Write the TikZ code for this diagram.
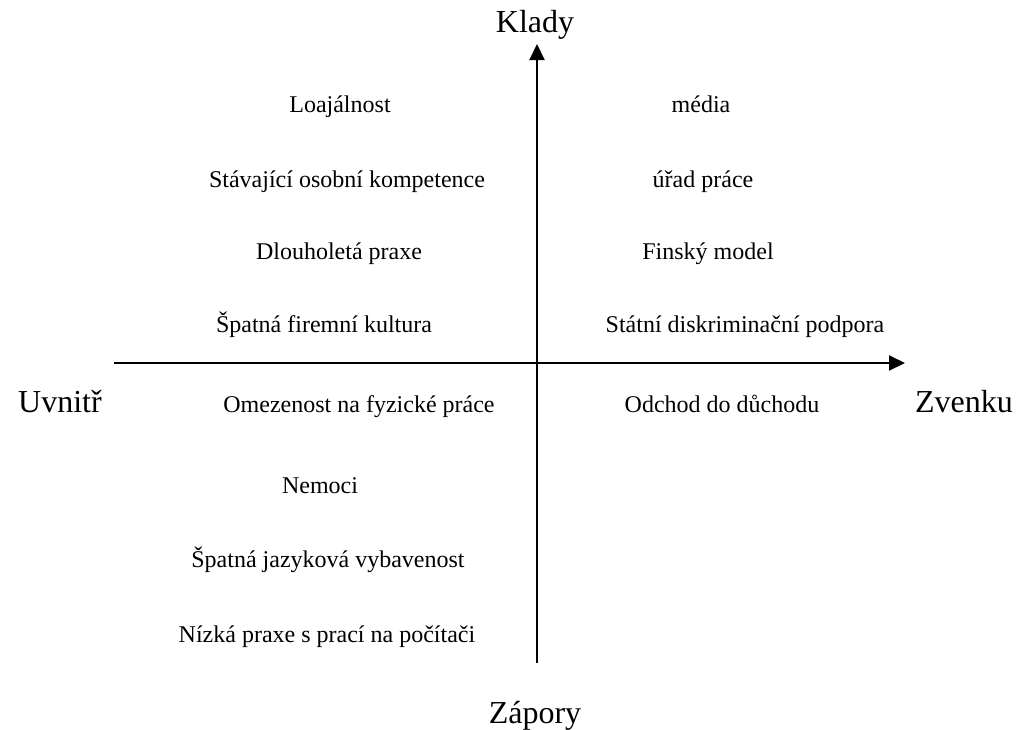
\documentclass[tikz,border=0pt]{standalone}
\usepackage{fontspec}
\setmainfont{Liberation Serif}
\usetikzlibrary{arrows.meta}
\tikzset{>={Triangle[length=8pt,width=7.5pt]}}
\tikzset{item/.style = {anchor=base, inner sep=0pt, font=\fontsize{12}{14}\selectfont},
         pole/.style = {anchor=base, inner sep=0pt, font=\fontsize{16}{19}\selectfont},
         axis/.style = {line width=1pt, ->}}

\begin{document}
\begin{tikzpicture}[x=0.5pt, y=-0.5pt]
                    \useasboundingbox (0,0) rectangle (1017,729);

                    \coordinate (S) at (537,663);
                    \coordinate (N) at (537,44);
                    \coordinate (W) at (114,363);
                    \coordinate (E) at (905,363);

                    \draw[axis] (S) -- (N);
                    \draw[axis] (W) -- (E);

                    \node[pole] (klady) at (535,32) {Klady};
                    \node[pole] (zapory) at (535,723) {Zápory};
                    \node[pole] (uvnitr) at (60,412) {Uvnitř};
                    \node[pole] (zvenku) at (964,412) {Zvenku};

                    \node[item] (l1) at (340,112) {Loajálnost};
                    \node[item] (l2) at (347,187) {Stávající osobní kompetence};
                    \node[item] (l3) at (339,259) {Dlouholetá praxe};
                    \node[item] (l4) at (324,332) {Špatná firemní kultura};
                    \node[item] (l5) at (359,412) {Omezenost na fyzické práce};
                    \node[item] (l6) at (320,493) {Nemoci};
                    \node[item] (l7) at (328,567) {Špatná jazyková vybavenost};
                    \node[item] (l8) at (327,642) {Nízká praxe s prací na počítači};

                    \node[item] (r1) at (701,112) {média};
                    \node[item] (r2) at (703,187) {úřad práce};
                    \node[item] (r3) at (708,259) {Finský model};
                    \node[item] (r4) at (745,332) {Státní diskriminační podpora};
                    \node[item] (r5) at (722,412) {Odchod do důchodu};
                \end{tikzpicture}
\end{document}
